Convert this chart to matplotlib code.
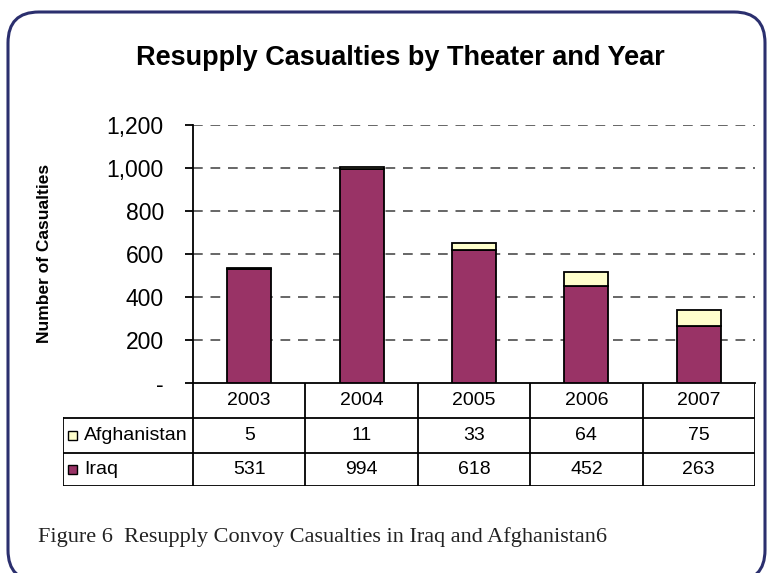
import numpy as np
import matplotlib.pyplot as plt
from matplotlib.patches import FancyBboxPatch, Rectangle

years = ["2003", "2004", "2005", "2006", "2007"]
iraq = [531, 994, 618, 452, 263]
afghanistan = [5, 11, 33, 64, 75]
series_names = ["Afghanistan", "Iraq"]
yticks = [0, 200, 400, 600, 800, 1000, 1200]
ytick_labels = ["-", "200", "400", "600", "800", "1,000", "1,200"]

IRAQ_COLOR = "#993366"
AFG_COLOR = "#FFFFCC"
W, H = 772, 573

plt.rcParams['font.family'] = ['Liberation Sans', 'DejaVu Sans']

fig = plt.figure(figsize=(W / 100, H / 100), dpi=100)


def px(x0, y0, x1, y1):
    # pixel box (top-left origin) -> figure fraction rect
    return [x0 / W, 1 - y1 / H, (x1 - x0) / W, (y1 - y0) / H]


# rounded frame
frame = FancyBboxPatch((8 / W, -8 / H), 757 / W, (573 - 12 + 8) / H,
                       boxstyle="round,pad=0,rounding_size=0.04",
                       transform=fig.transFigure, fill=False,
                       edgecolor="#2b2f6e", linewidth=2.2, mutation_aspect=W / H)
fig.patches.append(frame)

# main chart
ax = fig.add_axes(px(193, 125, 755, 383))
x = np.arange(len(years))
bw = 0.39
ax.bar(x, iraq, width=bw, color=IRAQ_COLOR, edgecolor="black", linewidth=1.3, zorder=3)
ax.bar(x, afghanistan, width=bw, bottom=iraq, color=AFG_COLOR, edgecolor="black",
       linewidth=1.3, zorder=3)
ax.set_xlim(-0.5, len(years) - 0.5)
ax.set_ylim(0, 1200)
ax.set_yticks(yticks)
ax.set_yticklabels(ytick_labels, fontsize=16.5)
ax.set_xticks([])
for y in yticks[1:]:
    ax.axhline(y, color="#666666", linestyle=(0, (5, 4)), linewidth=1.4, zorder=1)
for s in ["top", "right"]:
    ax.spines[s].set_visible(False)
ax.spines["left"].set_linewidth(1.3)
ax.spines["bottom"].set_linewidth(1.3)
ax.tick_params(axis="y", direction="out", length=6, width=1.3, pad=15)

fig.text(45 / W, 1 - 253 / H, "Number of Casualties", rotation=90,
         fontsize=12.5, fontweight="bold", ha="center", va="center")

fig.text(400 / W, 1 - 58 / H, "Resupply Casualties by Theater and Year",
         fontsize=19.5, fontweight="bold", ha="center", va="center")

# data table below the chart (pixel-height units on the y axis)
tax = fig.add_axes(px(63, 383, 755, 486))
col_w = 562 / len(years)
left = -0.5 - 130 / col_w
tax.set_xlim(left, len(years) - 0.5)
tax.set_ylim(0, 103)
tax.axis("off")
lw = 1.3
top, r1, r2 = 103, 68, 33
for i in range(len(years) + 1):
    tax.plot([i - 0.5, i - 0.5], [0, top], color="black", lw=lw, solid_capstyle="butt")
tax.plot([left, left], [0, r1], color="black", lw=lw)
for yy in [r1, r2, 0]:
    tax.plot([left, len(years) - 0.5], [yy, yy], color="black", lw=lw)
yc_head, yc_afg, yc_iraq = (top + r1) / 2, (r1 + r2) / 2, r2 / 2
for i, yr in enumerate(years):
    tax.text(i, yc_head, yr, ha="center", va="center", fontsize=14)
    tax.text(i, yc_afg, str(afghanistan[i]), ha="center", va="center", fontsize=14)
    tax.text(i, yc_iraq, str(iraq[i]), ha="center", va="center", fontsize=14)
for name, color, yc in [(series_names[0], AFG_COLOR, yc_afg), (series_names[1], IRAQ_COLOR, yc_iraq)]:
    tax.add_patch(Rectangle((left + 5 / col_w, yc - 4.5), 9 / col_w, 9, facecolor=color,
                            edgecolor="black", lw=1))
    tax.text(left + 21 / col_w, yc, name, ha="left", va="center", fontsize=14)

fig.text(38 / W, 1 - 537 / H, "Figure 6  Resupply Convoy Casualties in Iraq and Afghanistan6",
         fontsize=16, family="Liberation Serif", ha="left", va="center", color="#222222")

fig.savefig("out.png", dpi=100)
